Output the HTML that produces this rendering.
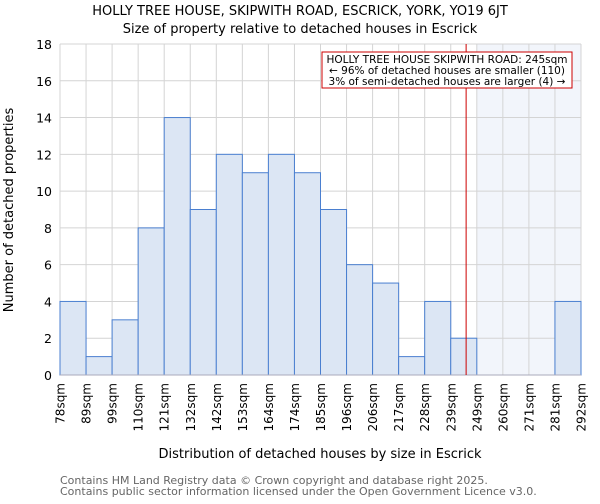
<!DOCTYPE html>
<html><head><meta charset="utf-8"><style>
body{margin:0;background:#fff;font-family:"DejaVu Sans","Liberation Sans",sans-serif}
svg text{font-family:"DejaVu Sans","Liberation Sans",sans-serif}
</style></head><body>
<svg id="chart" width="600" height="500" xmlns="http://www.w3.org/2000/svg">
<text x="300" y="15" text-anchor="middle" font-size="13">HOLLY TREE HOUSE, SKIPWITH ROAD, ESCRICK, YORK, YO19 6JT</text>
<text x="300" y="33" text-anchor="middle" font-size="13">Size of property relative to detached houses in Escrick</text>
<g id="grid"></g><g id="bars"></g><g id="axes"></g>
<text transform="translate(13,210) rotate(-90)" text-anchor="middle" font-size="13">Number of detached properties</text>
<text x="320" y="458" text-anchor="middle" font-size="13">Distribution of detached houses by size in Escrick</text>
<text x="60" y="484" font-size="11" fill="#666">Contains HM Land Registry data © Crown copyright and database right 2025.</text>
<text x="60" y="495" font-size="11" fill="#666">Contains public sector information licensed under the Open Government Licence v3.0.</text>
</svg>
<script>
const categories=["78sqm","89sqm","99sqm","110sqm","121sqm","132sqm","142sqm","153sqm","164sqm","174sqm","185sqm","196sqm","206sqm","217sqm","228sqm","239sqm","249sqm","260sqm","271sqm","281sqm","292sqm"];
const counts=[4,1,3,8,14,9,12,11,12,11,9,6,5,1,4,2,0,0,0,4];
const yTicks=[0,2,4,6,8,10,12,14,16,18];
const markerBin=15.59;
const shadeFromBin=16;
const NS="http://www.w3.org/2000/svg";
const X0=60,X1=581,Y0=375,Y1=44,YMAX=18;
const n=counts.length;
const xs=i=>X0+(X1-X0)*i/n;
const ys=v=>Y0-(Y0-Y1)*v/YMAX;
function mk(parent,tag,attrs){const e=document.createElementNS(NS,tag);for(const k in attrs)e.setAttribute(k,attrs[k]);document.getElementById(parent).appendChild(e);return e;}
let r=mk("grid","rect",{x:X0,y:Y1,width:X1-X0,height:Y0-Y1,fill:"#fff"});


let s=mk("grid","rect",{x:xs(shadeFromBin),y:Y1,width:X1-xs(shadeFromBin),height:Y0-Y1,fill:"#f2f5fb"});


yTicks.forEach(t=>{
 let l=mk("grid","line",{x1:X0,x2:X1,y1:ys(t),y2:ys(t),stroke:"#d4d4d4","stroke-width":1});
 
 
 let tx=mk("axes","text",{x:X0-8,y:ys(t)+5,"text-anchor":"end","font-size":12.5});
 
 
 tx.textContent=t;
});
categories.forEach((c,i)=>{
 let l=mk("grid","line",{x1:xs(i),x2:xs(i),y1:Y1,y2:Y0,stroke:"#d4d4d4","stroke-width":1});
 
 
 let tx=mk("axes","text",{transform:`translate(${xs(i)+4.5},${Y0+8}) rotate(-90)`,"text-anchor":"end","font-size":12});
 
 
 tx.textContent=c;
});
counts.forEach((v,i)=>{
 if(v<=0)return;
 let b=mk("bars","rect",{x:xs(i),y:ys(v),width:xs(i+1)-xs(i),height:Y0-ys(v),fill:"#dce6f4",stroke:"#4a7fd0","stroke-width":1});
 
 
});
let ax=mk("axes","line",{x1:X0,x2:X1,y1:Y0,y2:Y0,stroke:"#aab","stroke-width":1});


let mx=xs(markerBin);
let ml=mk("axes","line",{x1:mx,x2:mx,y1:Y1,y2:Y0,stroke:"#cc0000","stroke-width":1});


let box=mk("axes","rect",{x:322,y:52,width:250,height:36,fill:"#fff",stroke:"#cc0000","stroke-width":1});


["HOLLY TREE HOUSE SKIPWITH ROAD: 245sqm","← 96% of detached houses are smaller (110)","3% of semi-detached houses are larger (4) →"].forEach((t,i)=>{
 let tx=mk("axes","text",{x:447,y:63+i*11,"text-anchor":"middle","font-size":10.5});
 
 
 tx.textContent=t;
});
</script>
</body></html>
